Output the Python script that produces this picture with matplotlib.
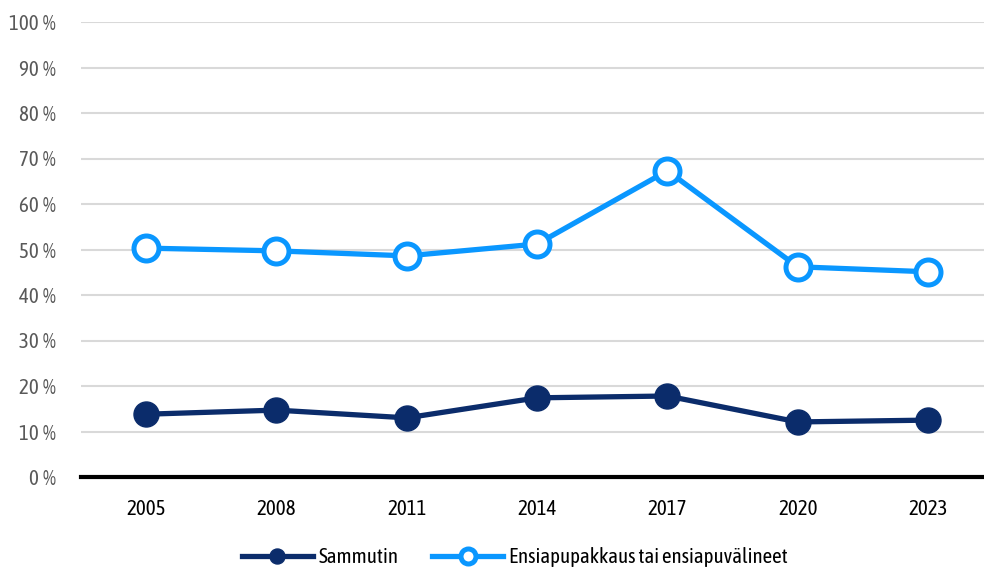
import matplotlib
matplotlib.use('Agg')
import matplotlib.pyplot as plt
from matplotlib.ticker import FuncFormatter

plt.rcParams['font.family'] = ['Asap Condensed', 'DejaVu Sans']

years = ['2005', '2008', '2011', '2014', '2017', '2020', '2023']
sammutin = [13.8, 14.7, 13.0, 17.4, 17.8, 12.1, 12.5]
ensiapu = [50.3, 49.7, 48.6, 51.2, 67.3, 46.2, 45.1]
labels = ['Sammutin', 'Ensiapupakkaus tai ensiapuvälineet']

dark = '#0b2c6b'
light = '#0a97ff'

fig = plt.figure(figsize=(9.84, 5.69), dpi=100)
ax = fig.add_axes([81 / 984, 1 - 477 / 569, 1 - 81 / 984, (477 - 22) / 569])

x = range(len(years))
ax.plot(x, sammutin, color=dark, lw=3.8, marker='o', ms=18,
        mfc=dark, mec=dark, label=labels[0], zorder=3, clip_on=False)
ax.plot(x, ensiapu, color=light, lw=3.8, marker='o', ms=18,
        mfc='white', mec=light, mew=3.6, label=labels[1], zorder=3, clip_on=False)

ax.set_ylim(0, 100)
ax.set_xlim(-0.5, 6.43)
ax.set_yticks(range(0, 101, 10))
ax.yaxis.set_major_formatter(FuncFormatter(lambda v, p: f'{int(v)}\u2009%'))
ax.set_xticks(list(x))
ax.set_xticklabels(years)
ax.grid(axis='y', color='#d9d9d9', lw=1.5)
ax.set_axisbelow(True)
for s in ['top', 'right', 'left']:
    ax.spines[s].set_visible(False)
ax.spines['bottom'].set_linewidth(3)
ax.spines['bottom'].set_color('black')
ax.spines['bottom'].set_zorder(4)
ax.tick_params(axis='both', length=0, labelsize=15)
ax.tick_params(axis='y', colors='#595959', pad=18)
ax.tick_params(axis='x', colors='black', pad=16)

fig.legend(loc='lower center', bbox_to_anchor=(515 / 984, -0.03), ncol=2,
           frameon=False, fontsize=15, handlelength=3.4, columnspacing=1.6,
           handletextpad=0.3, markerscale=0.6)

fig.savefig('out.png', dpi=100)
